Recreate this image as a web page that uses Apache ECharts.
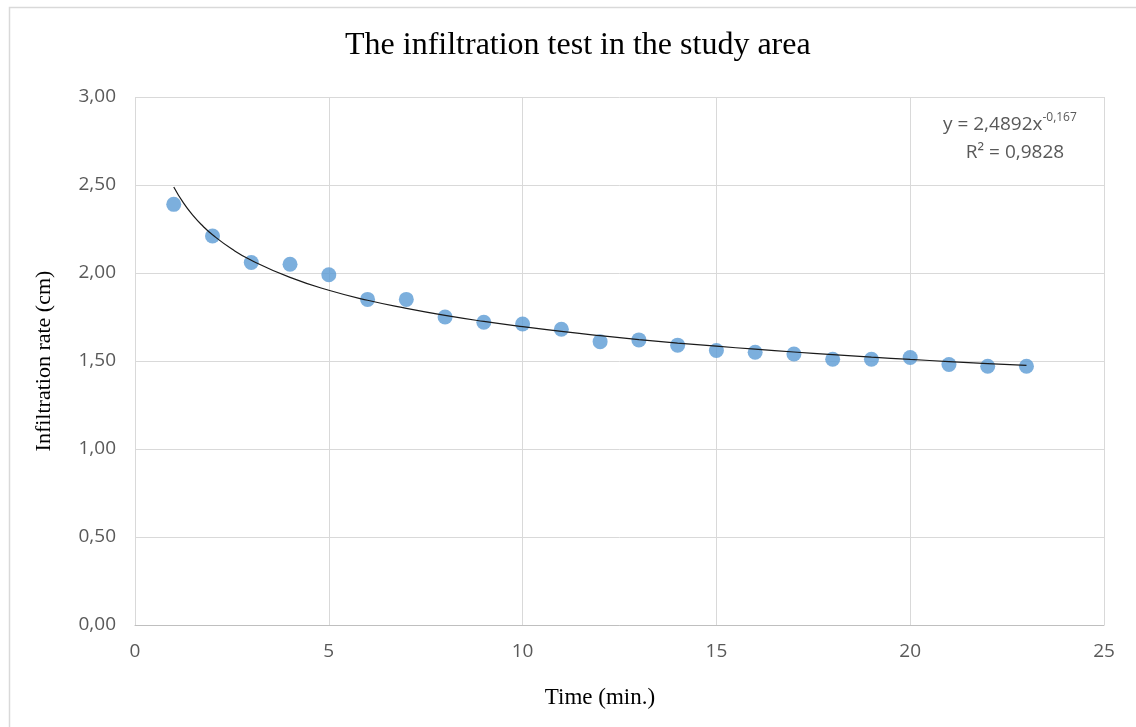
<!DOCTYPE html>
<html>
<head>
<meta charset="utf-8">
<script src="https://cdn.jsdelivr.net/npm/echarts@6/dist/echarts.min.js"></script>
<style>
html,body{margin:0;padding:0;background:#fff;}
#chart{width:1136px;height:727px;}
</style>
</head>
<body>
<div id="chart"></div>
<script>
// Observed data: time (min.) and infiltration rate (cm)
const timeMin = [1,2,3,4,5,6,7,8,9,10,11,12,13,14,15,16,17,18,19,20,21,22,23];
const infiltrationRate = [2.39,2.21,2.06,2.05,1.99,1.85,1.85,1.75,1.72,1.71,1.68,1.61,1.62,1.59,1.56,1.55,1.54,1.51,1.51,1.52,1.48,1.47,1.47];
// Power trendline as drawn (tabulated values)
const trendX = [1,1.25,1.5,1.75,2,2.5,3,4,5,6,7,8,9,10,11,12,13,14,15,16,17,18,19,20,21,22,23];
const trendY = [2.489,2.398,2.326,2.267,2.217,2.136,2.072,1.975,1.902,1.845,1.799,1.759,1.725,1.695,1.668,1.644,1.622,1.602,1.584,1.567,1.551,1.536,1.522,1.509,1.497,1.485,1.475];
const xTicks = {min:0, max:25, interval:5};
const yTicks = {min:0, max:3, interval:0.5};
const titleText = 'The infiltration test in the study area';
const xName = 'Time (min.)';
const yName = 'Infiltration rate (cm)';
const eqLine1 = 'y = 2,4892x';
const eqExp = '-0,167';
const eqLine2 = 'R² = 0,9828';

const chart = echarts.init(document.getElementById('chart'), null, {renderer:'canvas'});
const tickFont = {fontFamily:'Open Sans', fontSize:19, color:'#595959'};
chart.setOption({
  animation:false,
  backgroundColor:'#fff',
  title:{
    text:titleText, left:340, top:25,
    textStyle:{fontFamily:'Liberation Serif', fontSize:32, fontWeight:'normal', color:'#000'}
  },
  grid:{left:135, right:32, top:97, bottom:102},
  xAxis:{
    type:'value', min:xTicks.min, max:xTicks.max, interval:xTicks.interval,
    name:xName, nameLocation:'middle', nameGap:61,
    nameTextStyle:{fontFamily:'Liberation Serif', fontSize:23, color:'#000', padding:[0,39,0,0]},
    axisLine:{show:true, lineStyle:{color:'#BFBFBF', width:1}},
    axisTick:{show:false},
    axisLabel:Object.assign({margin:17}, tickFont),
    splitLine:{show:true, lineStyle:{color:'#D9D9D9', width:1}}
  },
  yAxis:{
    type:'value', min:yTicks.min, max:yTicks.max, interval:yTicks.interval,
    name:yName, nameLocation:'middle', nameGap:80,
    nameTextStyle:{fontFamily:'Liberation Serif', fontSize:22, color:'#000'},
    axisLine:{show:false},
    axisTick:{show:false},
    axisLabel:Object.assign({margin:19, formatter:v=>v.toFixed(2).replace('.',',')}, tickFont),
    splitLine:{show:true, lineStyle:{color:'#D9D9D9', width:1}}
  },
  series:[
    {
      type:'scatter',
      data:timeMin.map((t,i)=>[t, infiltrationRate[i]]),
      symbol:'circle', symbolSize:15,
      itemStyle:{color:'#5B9BD5'},
      z:2
    },
    {
      type:'line',
      data:trendX.map((t,i)=>[t, trendY[i]]),
      smooth:true, showSymbol:false, symbol:'none',
      lineStyle:{color:'#1a1a1a', width:1.2},
      z:3
    }
  ],
  graphic:[
    {type:'rect', shape:{x:9.5, y:7.5, width:1300, height:900}, style:{fill:'none', stroke:'#D9D9D9', lineWidth:1.5}, silent:true, z:-1},
    {type:'text', left:943, top:112, style:{
      text:'{b|'+eqLine1+'}{s|'+eqExp+'}',
      rich:{
        b:{fontFamily:'Open Sans', fontSize:19, fill:'#595959', verticalAlign:'bottom'},
        s:{fontFamily:'Open Sans', fontSize:12, fill:'#595959', verticalAlign:'top', padding:[0,0,10,0]}
      }
    }},
    {type:'text', x:1015, y:143, style:{
      text:eqLine2, textAlign:'center', fontFamily:'Open Sans', fontSize:19, fill:'#595959'
    }}
  ]
});
</script>
</body>
</html>
